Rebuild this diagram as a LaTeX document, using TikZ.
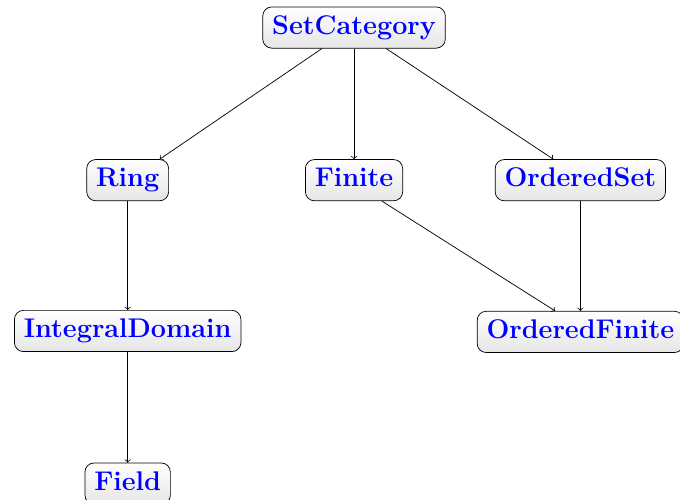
\documentclass[tikz,border=0pt]{standalone}
\usepackage{tikz}
\usetikzlibrary{positioning}
\tikzset{cat node/.style={rectangle,rounded corners=5pt,draw,top color=white,bottom color=black!10,
  font=\fontsize{15}{18}\selectfont\bfseries,text=blue,text height=10.5pt,text depth=3.2pt,
  inner xsep=5.2pt,inner ysep=4.6pt}}

\begin{document}
\begin{tikzpicture}[scale=1]
            \useasboundingbox (-196.7pt,-262.2pt) rectangle (181.1pt,15.3pt);
            \node[cat node] (SetCategory) {SetCategory};
            \node[cat node] (Finite) [below = 61.5pt of SetCategory] {Finite};
            \node[cat node] (Ring) [left = 75.6pt of Finite] {Ring};
            \node[cat node] (OrderedSet) [right = 51pt of Finite] {OrderedSet};
            \node[cat node] (IntegralDomain) [below = 60.5pt of Ring] {IntegralDomain};
            \node[cat node] (Field) [below = 61.5pt of IntegralDomain] {Field};
            \node[cat node] (OrderedFinite) [below = 61pt of OrderedSet] {OrderedFinite};

            \path[draw, every edge/.append style={->}]
            ([xshift=-17.8pt]SetCategory.south) edge ([xshift=17.8pt]Ring.north)
            (SetCategory.south) edge (Finite.north)
            ([xshift=17.8pt]SetCategory.south) edge ([xshift=-15pt]OrderedSet.north)
            (Ring) edge (IntegralDomain)
            (IntegralDomain) edge (Field)
            ([xshift=15.5pt]Finite.south) edge ([xshift=-14pt]OrderedFinite.north)
            (OrderedSet.south) edge (OrderedSet.south |- OrderedFinite.north);
        \end{tikzpicture}
\end{document}
